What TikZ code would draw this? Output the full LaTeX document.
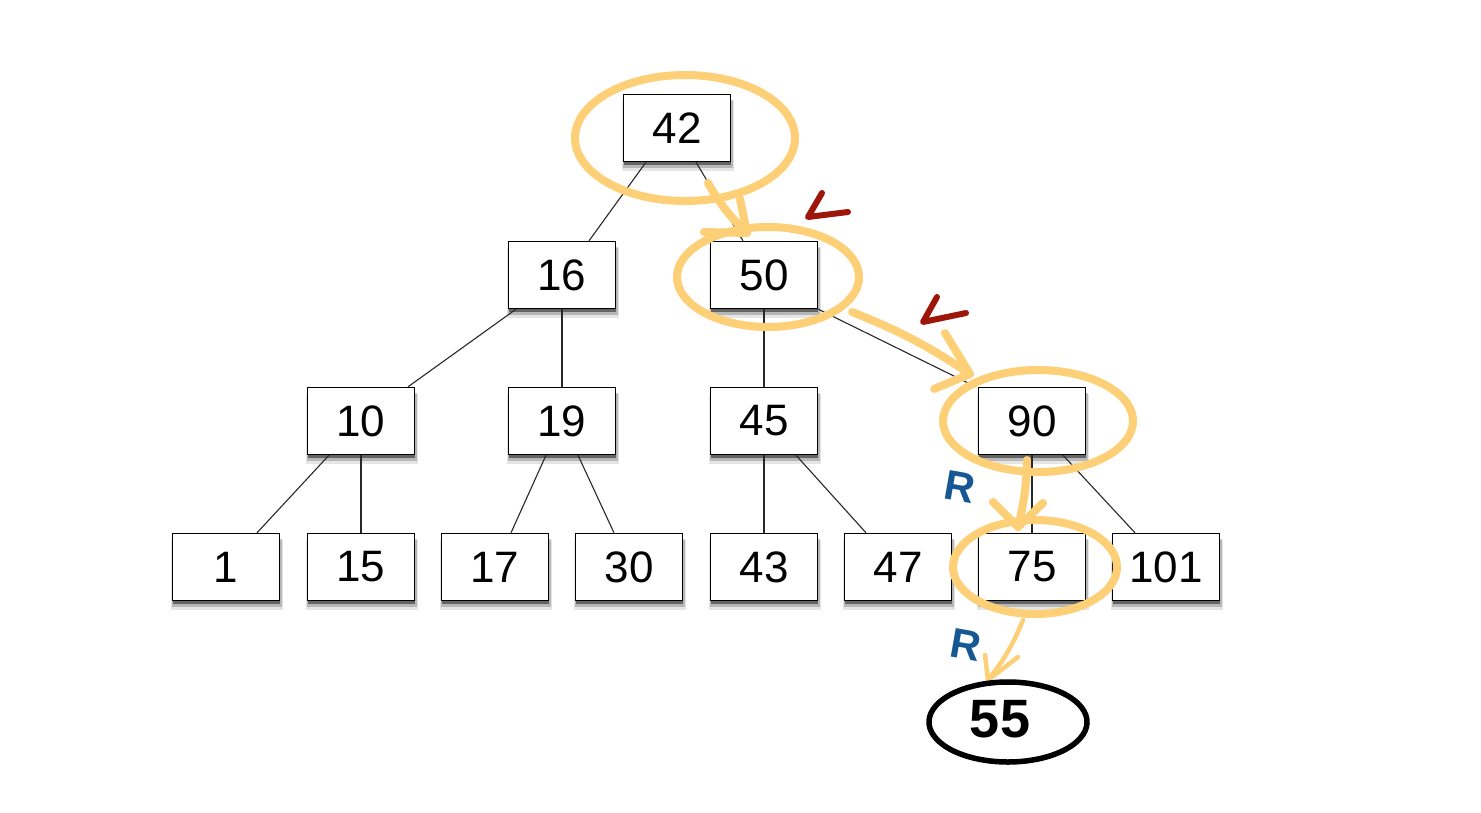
\documentclass[tikz,border=0pt]{standalone}
\usepackage{fontspec}
\setmainfont{Liberation Sans}
\usetikzlibrary{shadows}
\definecolor{hl}{RGB}{253,207,118}
\definecolor{chk}{RGB}{158,22,10}
\definecolor{rb}{RGB}{22,88,148}
\definecolor{edge}{RGB}{40,40,40}
\begin{document}
\begin{tikzpicture}[x=1pt,y=-1pt,
  box/.style={draw=black, line width=1.4pt, fill=white, minimum width=107pt, minimum height=67pt,
    inner sep=0pt, font=\fontsize{44}{50}\selectfont,
    drop shadow={shadow xshift=1pt, shadow yshift=-8pt, opacity=0.10, fill=black, shadow scale=1.04},
    drop shadow={shadow xshift=1pt, shadow yshift=-6pt, opacity=0.20, fill=black, shadow scale=1.02},
    drop shadow={shadow xshift=0pt, shadow yshift=-3pt, opacity=0.45, fill=black}},
  link/.style={draw=edge, line width=1.1pt},
  hlstroke/.style={draw=hl, line width=8pt, line cap=round, line join=round},
  hlthin/.style={draw=hl, line width=4.5pt, line cap=round, line join=round},
  check/.style={draw=chk, line width=6pt, line cap=round, line join=round},
  rmark/.style={text=rb, font=\fontsize{42}{46}\selectfont\bfseries, inner sep=0pt}]
\fill[white] (0,0) rectangle (1481,812);
\useasboundingbox (0,0) rectangle (1481,812);

% nodes
\node[box] (n42) at (677,128) {42};
\node[box] (n16) at (562,275) {16};
\node[box] (n50) at (764,275) {50};
\node[box] (n10) at (361,421) {10};
\node[box] (n19) at (562,421) {19};
\node[box] (n45) at (764,421) {45};
\node[box] (n90) at (1032,421) {90};
\node[box] (n1)  at (226,567) {1};
\node[box] (n15) at (361,567) {15};
\node[box] (n17) at (495,567) {17};
\node[box] (n30) at (629,567) {30};
\node[box] (n43) at (764,567) {43};
\node[box] (n47) at (898,567) {47};
\node[box] (n75) at (1032,567) {75};
\node[box] (n101) at (1166,567) {101};

% tree links
\draw[link] ([xshift=-31pt]n42.south) -- ([xshift=27pt]n16.north);
\draw[link] ([xshift=19pt]n42.south) -- ([xshift=-21pt]n50.north);
\draw[link] ([xshift=-46pt]n16.south) -- ([xshift=47pt]n10.north);
\draw[link] (n16.south) -- (n19.north);
\draw[link] (n50.south) -- (n45.north);
\draw[link] (n50.south east) -- ([xshift=-2pt]n90.north west);
\draw[link] ([xshift=-32pt]n10.south) -- ([xshift=31pt]n1.north);
\draw[link] (n10.south) -- (n15.north);
\draw[link] ([xshift=-16pt]n19.south) -- ([xshift=16pt]n17.north);
\draw[link] ([xshift=16pt]n19.south) -- ([xshift=-15pt]n30.north);
\draw[link] (n45.south) -- (n43.north);
\draw[link] ([xshift=32pt]n45.south) -- ([xshift=-32pt]n47.north);
\draw[link] (n90.south) -- (n75.north);
\draw[link] ([xshift=31pt]n90.south) -- ([xshift=-31pt]n101.north);

% highlight ellipses
\draw[hlstroke] (685,138) ++(95:110 and 63) arc[start angle=95, end angle=470, x radius=110, y radius=63];
\draw[hlstroke] (768,277) ++(165:91 and 50) arc[start angle=165, end angle=530, x radius=91, y radius=50];
\draw[hlstroke] (1038,421) ++(200:95 and 51) arc[start angle=200, end angle=575, x radius=95, y radius=51];
\draw[hlstroke] (1035,567) ++(200:82 and 47) arc[start angle=200, end angle=570, x radius=82, y radius=47];

% highlight arrows
\coordinate (a1s) at (708,183); \coordinate (a1t) at (747,233);
\draw[hlstroke] (a1s) to[bend right=8] (a1t);
\draw[hlstroke] (740,199) -- (a1t) -- (704,232);
\coordinate (a2s) at (852,312); \coordinate (a2t) at (970,374);
\draw[hlstroke] (a2s) to[bend left=6] (a2t);
\draw[hlstroke] (945,333) -- (a2t) -- (934,389);
\coordinate (a3s) at (1027,460); \coordinate (a3t) at (1018,527);
\draw[hlstroke] (a3s) to[bend left=6] (a3t);
\draw[hlstroke] (993,502) -- (a3t) -- (1043,503);
\coordinate (a4s) at (1023,620); \coordinate (a4t) at (988,680);
\draw[hlthin] (a4s) to[bend left=8] (a4t);
\draw[hlthin] (985,655) -- (a4t) -- (1018,657);

% check marks
\draw[check] (822,193) -- (808,217) -- (848,212);
\draw[check] (937,297) -- (923,322) -- (966,313);

% R marks
\node[rmark, rotate=-10] (r1) at (960,487) {R};
\node[rmark, rotate=-10] (r2) at (966,645) {R};

% result node
\node[inner sep=0pt, font=\fontsize{54}{58}\selectfont\bfseries] (n55) at (1000,719) {55};
\draw[line width=5.5pt, line cap=round] (1008,722) ++(120:79 and 40) arc[start angle=120, end angle=490, x radius=79, y radius=40];
\end{tikzpicture}
\end{document}
